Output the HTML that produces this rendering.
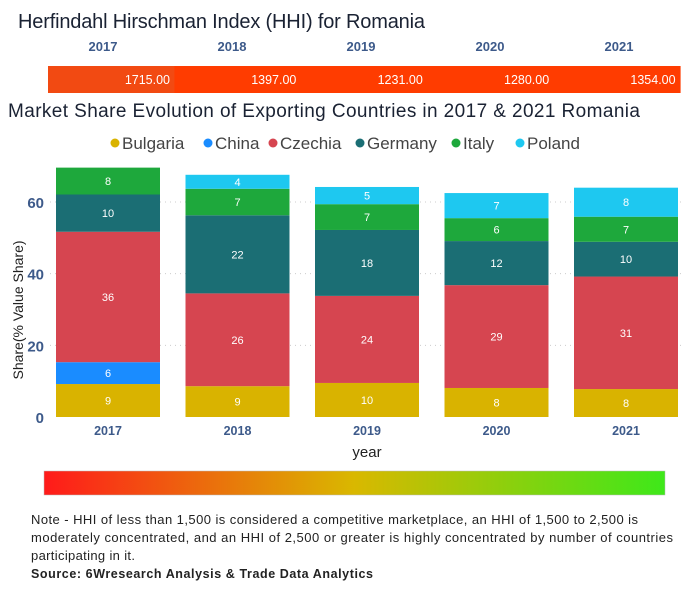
<!DOCTYPE html>
<html><head><meta charset="utf-8"><style>
body{margin:0;background:#fff;width:696px;height:600px;overflow:hidden;font-family:"Liberation Sans",sans-serif}
svg text{font-family:"Liberation Sans",sans-serif}
</style></head><body>
<svg id="c" width="696" height="600">
<text x="18" y="28" font-size="20" fill="#1a2233" textLength="407">Herfindahl Hirschman Index (HHI) for Romania</text>
<g id="hhi"></g>
<text x="8" y="117" font-size="19" fill="#1a2233" textLength="632">Market Share Evolution of Exporting Countries in 2017 &amp; 2021 Romania</text>
<g id="legend"></g>
<g id="grid"></g>
<g id="bars"></g>
<g id="axes"></g>
<text transform="translate(23,310) rotate(-90)" text-anchor="middle" font-size="14" fill="#222">Share(% Value Share)</text>
<text x="367" y="457" text-anchor="middle" font-size="15" fill="#222">year</text>
<defs><linearGradient id="gr" x1="0" x2="1"><stop offset="0" stop-color="#ff1a1a"/><stop offset="0.5" stop-color="#d9b800"/><stop offset="1" stop-color="#3ee81a"/></linearGradient></defs>
<rect x="44" y="471" width="621" height="24" fill="url(#gr)" stroke="#bbb" stroke-width="0.5"/>
<text font-size="13" fill="#222"><tspan x="31" y="524" textLength="607">Note - HHI of less than 1,500 is considered a competitive marketplace, an HHI of 1,500 to 2,500 is</tspan><tspan x="31" y="542" textLength="642">moderately concentrated, and an HHI of 2,500 or greater is highly concentrated by number of countries</tspan><tspan x="31" y="560" textLength="104">participating in it.</tspan></text>
<text x="31" y="578" font-size="12.5" font-weight="bold" fill="#222" textLength="342">Source: 6Wresearch Analysis &amp; Trade Data Analytics</text>
</svg>
<script>
const years=["2017","2018","2019","2020","2021"];
const hhiValues=[1715,1397,1231,1280,1354];
const countries=["Bulgaria","China","Czechia","Germany","Italy","Poland"];
const colors=["#d9b300","#1a8cff","#d64550","#1b6e74","#1ea83c","#1ec8f0"];
const bulgaria=[9.2,8.6,9.5,8.1,7.8];
const china=[6.1,0,0,0,0];
const czechia=[36.4,25.9,24.3,28.7,31.4];
const germany=[10.4,21.8,18.4,12.3,9.7];
const italy=[7.5,7.4,7.2,6.4,7.0];
const poland=[0,3.9,4.8,7.0,8.1];
const series=[bulgaria,china,czechia,germany,italy,poland];
const yTicks=[0,20,40,60];
const NS="http://www.w3.org/2000/svg";
function mk(p,t,a,txt){const e=document.createElementNS(NS,t);for(const k in a)e.setAttribute(k,a[k]);if(txt!=null)e.textContent=txt;p.appendChild(e);return e;}
const y=v=>417-v*3.583;
const xc=i=>108+i*129.5;
const bw=104;
const hg=document.getElementById('hhi');
years.forEach((yr,i)=>{
 const cx=48+i*126.4;
 const r=mk(hg,'rect',{x:cx,y:66,width:127,height:27,fill:i==0?'#f24a12':'#ff3c00'});
 
 
 const t=mk(hg,'text',{x:cx+122,y:84,'text-anchor':'end','font-size':12.5,fill:'#fff'},hhiValues[i].toFixed(2));
 
 
 const l=mk(hg,'text',{x:103+i*129,y:51,'text-anchor':'middle','font-size':13,'font-weight':'bold',fill:'#3d5a8a'},yr);
 
 
});
const lg=document.getElementById('legend');
const lx=[115,208,273,360,456,520];
countries.forEach((c,i)=>{
 const d=mk(lg,'circle',{cx:lx[i],cy:143,r:4.5,fill:colors[i]});
 
 
 const t=mk(lg,'text',{x:lx[i]+7,y:149,'font-size':17,fill:'#444'},c);
 
 
});
const gg=document.getElementById('grid'),ax=document.getElementById('axes');
yTicks.forEach(v=>{
 if(v>0){const g=mk(gg,'line',{x1:50,x2:685,y1:y(v),y2:y(v),stroke:'#ccc','stroke-dasharray':'1 4'});
 
 }
 const t=mk(ax,'text',{x:44,y:y(v)+6,'text-anchor':'end','font-size':15,'font-weight':'bold',fill:'#3d5a8a'},v);
 
 
});
const bg=document.getElementById('bars');
years.forEach((yr,i)=>{
 let acc=0;
 series.forEach((s,k)=>{
  const v=s[i]; if(v<=0)return;
  const r=mk(bg,'rect',{x:xc(i)-bw/2,y:y(acc+v),width:bw,height:v*3.583,fill:colors[k]});
  
  
  const t=mk(bg,'text',{x:xc(i),y:y(acc+v/2)+4,'text-anchor':'middle','font-size':11,fill:'#fff'},Math.round(v));
  
  
  acc+=v;
 });
 const t=mk(ax,'text',{x:xc(i),y:435,'text-anchor':'middle','font-size':12.5,'font-weight':'bold',fill:'#3d5a8a'},yr);
 
 
});
</script>
</body></html>
